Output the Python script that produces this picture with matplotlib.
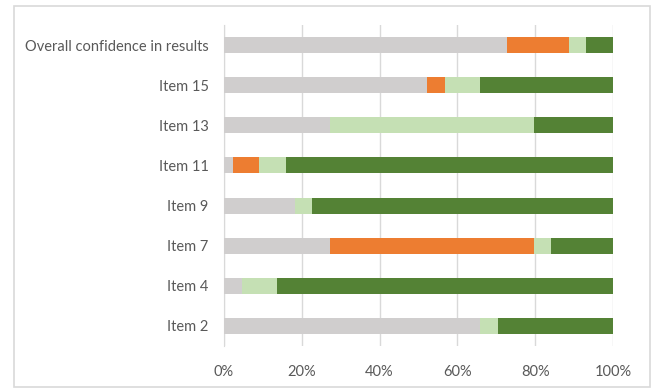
import matplotlib.pyplot as plt
from matplotlib.patches import Rectangle

categories = ['Item 2', 'Item 4', 'Item 7', 'Item 9', 'Item 11', 'Item 13',
              'Item 15', 'Overall confidence in results']
grey = [65.9, 4.5, 27.3, 18.2, 2.3, 27.3, 52.3, 72.7]
orange = [0, 0, 52.3, 0, 6.8, 0, 4.5, 15.9]
light_green = [4.5, 9.1, 4.5, 4.5, 6.8, 52.3, 9.1, 4.5]
dark_green = [29.5, 86.4, 15.9, 77.3, 84.1, 20.5, 34.1, 6.8]

colors = ['#d0cece', '#ed7d31', '#c5e0b4', '#548235']
series = [grey, orange, light_green, dark_green]

plt.rcParams['font.family'] = ['Lato', 'DejaVu Sans']

fig = plt.figure(figsize=(6.52, 3.89), dpi=100)
ax = fig.add_axes([224 / 652, 1 - 346 / 389, 389 / 652, 321 / 389])

y = list(range(len(categories)))
left = [0] * len(categories)
for vals, c in zip(series, colors):
    ax.barh(y, vals, left=left, height=0.4, color=c, zorder=3)
    left = [a + b for a, b in zip(left, vals)]

ax.set_xlim(0, 100)
ax.set_ylim(-0.5, 7.5)
ax.set_xticks([0, 20, 40, 60, 80, 100])
ax.set_xticklabels(['0%', '20%', '40%', '60%', '80%', '100%'])
ax.set_yticks(y)
ax.set_yticklabels(categories)
ax.tick_params(length=0, labelsize=10.5, colors='#595959')
ax.tick_params(axis='x', pad=14)
ax.tick_params(axis='y', pad=11)
ax.grid(axis='x', color='#d9d9d9', linewidth=1, zorder=0)
for s in ['top', 'right', 'bottom']:
    ax.spines[s].set_visible(False)
ax.spines['left'].set_color('#d9d9d9')

fig.patches.append(Rectangle((14 / 652, 2 / 389), 636 / 652, 381 / 389,
                             transform=fig.transFigure, fill=False,
                             edgecolor='#d9d9d9', linewidth=1.2))

fig.savefig('out.png', dpi=100)
